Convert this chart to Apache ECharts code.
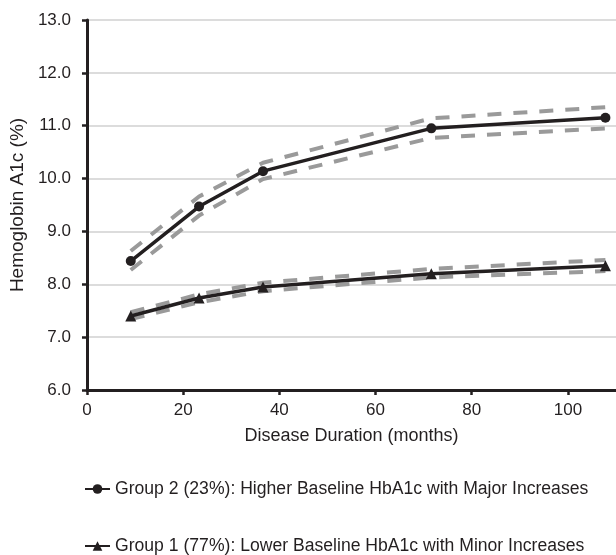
<!DOCTYPE html>
<html>
<head>
<meta charset="utf-8">
<script src="https://cdn.jsdelivr.net/npm/echarts@6/dist/echarts.min.js"></script>
<style>html,body{margin:0;padding:0;background:#fff;}#chart{width:616px;height:555px;}</style>
</head>
<body>
<div id="chart"></div>
<script>
// Disease duration (months) at each estimated point
var months = [9.1, 23.3, 36.6, 71.6, 107.8];
// Group 2: Higher baseline HbA1c with major increases
var group2 = [8.44, 9.47, 10.14, 10.95, 11.15];
var group2Upper = [8.63, 9.66, 10.30, 11.14, 11.35];
var group2Lower = [8.27, 9.30, 9.99, 10.77, 10.95];
// Group 1: Lower baseline HbA1c with minor increases
var group1 = [7.40, 7.74, 7.95, 8.20, 8.35];
var group1Upper = [7.47, 7.81, 8.03, 8.29, 8.46];
var group1Lower = [7.34, 7.66, 7.87, 8.13, 8.25];
var yTicks = [6, 7, 8, 9, 10, 11, 12, 13];
var xTicks = [0, 20, 40, 60, 80, 100];
var name2 = 'Group 2 (23%): Higher Baseline HbA1c with Major Increases';
var name1 = 'Group 1 (77%): Lower Baseline HbA1c with Minor Increases';

function pairs(xs, ys) { return xs.map(function (x, i) { return [x, ys[i]]; }); }

var FONT = '"Liberation Sans", Arial, sans-serif';
var TXT = '#231f20';
var bandStyle = { color: '#9a9a9a', width: 4, type: [14, 12] };
var legendBase = {
  orient: 'horizontal', left: 79, itemWidth: 25, itemHeight: 12, itemGap: 5,
  textStyle: { fontSize: 17.6, color: TXT, fontFamily: FONT }
};

var chart = echarts.init(document.getElementById('chart'), null, { renderer: 'canvas' });
chart.setOption({
  animation: false,
  textStyle: { fontFamily: FONT, color: TXT },
  grid: { left: 86, top: 20, right: 0, bottom: 165, containLabel: false },
  xAxis: {
    type: 'value', min: xTicks[0], max: 110, interval: 20,
    name: 'Disease Duration (months)', nameLocation: 'middle', nameGap: 37,
    nameTextStyle: { fontSize: 18, color: TXT, fontFamily: FONT },
    axisLine: { show: true, lineStyle: { color: '#231f20', width: 3 } },
    axisTick: { show: true, length: 5, lineStyle: { color: '#231f20', width: 2.5 } },
    axisLabel: { fontSize: 17, color: TXT, margin: 12, showMaxLabel: false, fontFamily: FONT },
    splitLine: { show: false }
  },
  yAxis: {
    type: 'value', min: yTicks[0], max: yTicks[yTicks.length - 1], interval: 1,
    name: 'Hemoglobin A1c (%)', nameLocation: 'middle', nameGap: 51,
    nameTextStyle: { fontSize: 19, color: TXT, fontFamily: FONT },
    axisLine: { show: true, lineStyle: { color: '#231f20', width: 3 } },
    axisTick: { show: true, length: 5, lineStyle: { color: '#231f20', width: 2.5 } },
    axisLabel: { fontSize: 17, color: TXT, margin: 16, fontFamily: FONT,
      formatter: function (v) { return v.toFixed(1); } },
    splitLine: { show: true, lineStyle: { color: '#dcdcdc', width: 2 } }
  },
  legend: [
    Object.assign({}, legendBase, { top: 475, data: [name2] }),
    Object.assign({}, legendBase, { top: 532, data: [name1] })
  ],
  series: [
    { name: 'g2u', type: 'line', data: pairs(months, group2Upper), showSymbol: false, symbol: 'none', lineStyle: bandStyle, z: 1, silent: true },
    { name: 'g2l', type: 'line', data: pairs(months, group2Lower), showSymbol: false, symbol: 'none', lineStyle: bandStyle, z: 1, silent: true },
    { name: 'g1u', type: 'line', data: pairs(months, group1Upper), showSymbol: false, symbol: 'none', lineStyle: bandStyle, z: 1, silent: true },
    { name: 'g1l', type: 'line', data: pairs(months, group1Lower), showSymbol: false, symbol: 'none', lineStyle: bandStyle, z: 1, silent: true },
    { name: name2, type: 'line', data: pairs(months, group2), symbol: 'circle', symbolSize: 10,
      itemStyle: { color: '#231f20' }, lineStyle: { color: '#231f20', width: 3.5 }, z: 5 },
    { name: name1, type: 'line', data: pairs(months, group1), symbol: 'triangle', symbolSize: 11,
      itemStyle: { color: '#231f20' }, lineStyle: { color: '#231f20', width: 3.5 }, z: 5 }
  ]
});
</script>
</body>
</html>
